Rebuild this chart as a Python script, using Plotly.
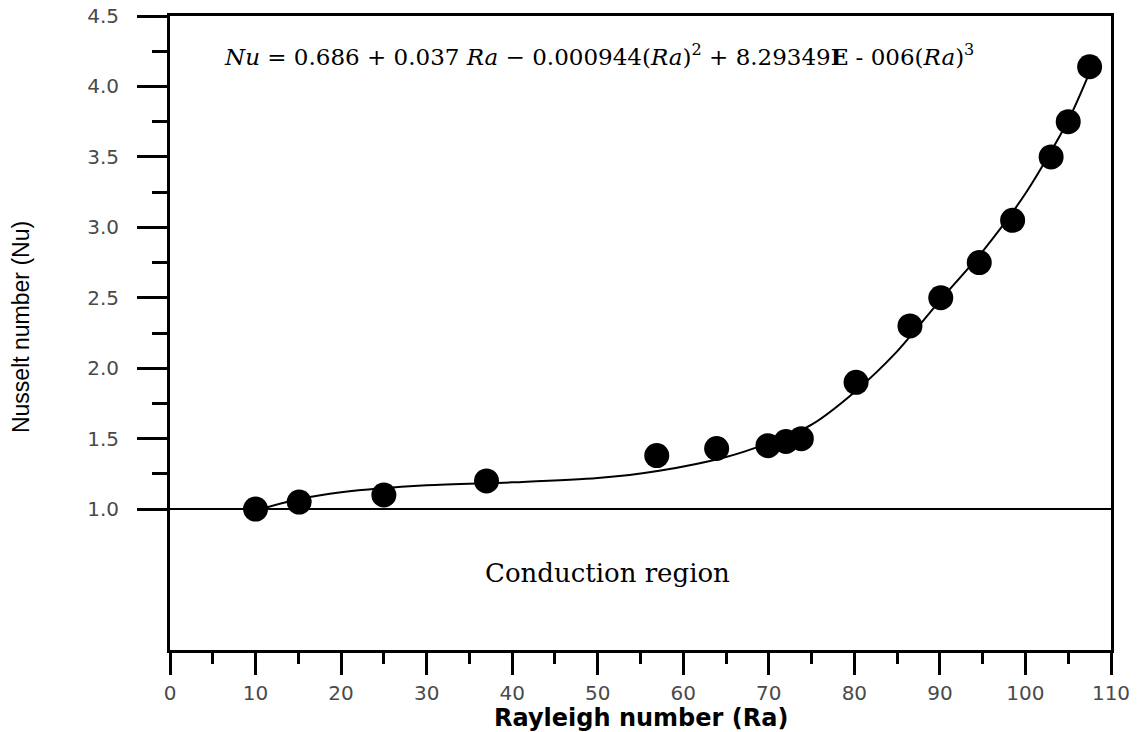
import plotly.graph_objects as go

ra_points = [10.0, 15.1, 25.0, 37.0, 56.9, 63.9, 69.9, 72.0, 73.8, 80.2, 86.5, 90.1, 94.6, 98.5, 103.0, 105.0, 107.5]
nu_points = [1.00, 1.05, 1.10, 1.20, 1.38, 1.43, 1.45, 1.48, 1.50, 1.90, 2.30, 2.50, 2.75, 3.05, 3.50, 3.75, 4.14]

# Fitted curve
ra_curve = [10, 15, 20, 30, 40, 50, 57, 65, 70, 75, 80, 85, 90, 95, 100, 105, 107.5]
nu_curve = [0.99, 1.07, 1.12, 1.17, 1.19, 1.22, 1.27, 1.37, 1.47, 1.60, 1.83, 2.12, 2.48, 2.83, 3.24, 3.76, 4.10]

conduction_level = [1.0, 1.0]
conduction_x = [0, 110]

y_ticks = [1.0, 1.5, 2.0, 2.5, 3.0, 3.5, 4.0, 4.5]
y_minor = [1.25, 1.75, 2.25, 2.75, 3.25, 3.75, 4.25]
x_ticks = [0, 10, 20, 30, 40, 50, 60, 70, 80, 90, 100, 110]

fig = go.Figure()

fig.add_trace(go.Scatter(x=conduction_x, y=conduction_level, mode="lines",
                         line=dict(color="black", width=2), showlegend=False, hoverinfo="skip"))
fig.add_trace(go.Scatter(x=ra_curve, y=nu_curve, mode="lines",
                         line=dict(color="black", width=2, shape="spline", smoothing=0.8),
                         showlegend=False))
fig.add_trace(go.Scatter(x=ra_points, y=nu_points, mode="markers",
                         marker=dict(color="black", size=25), showlegend=False))

tickfont = dict(family="DejaVu Sans, Arial, sans-serif", size=20, color="#4a4a4a")

fig.update_xaxes(
    range=[0, 110], tickmode="array", tickvals=x_ticks,
    ticks="outside", ticklen=22, tickwidth=3, tickcolor="black",
    minor=dict(dtick=5, tick0=0, ticks="outside", ticklen=11, tickwidth=3, tickcolor="black"),
    showline=True, linecolor="black", linewidth=3, mirror=True,
    showgrid=False, zeroline=False, tickfont=tickfont,
    ticklabelstandoff=1, automargin=False, ticklabeloverflow="allow",
)
fig.update_yaxes(
    range=[0, 4.5], tickmode="array", tickvals=y_ticks, ticktext=[f"{v:.1f}" for v in y_ticks],
    ticks="outside", ticklen=30, tickwidth=3, tickcolor="black",
    minor=dict(tickvals=y_minor, ticks="outside", ticklen=15, tickwidth=3, tickcolor="black"),
    showline=True, linecolor="black", linewidth=3, mirror=True,
    showgrid=False, zeroline=False, tickfont=tickfont,
    ticklabelstandoff=14, automargin=False, ticklabeloverflow="allow",
)

# axis titles
fig.add_annotation(
    x=0.5, y=-0.1065, xref="paper", yref="paper", xanchor="center", yanchor="middle", showarrow=False,
    text="<b>Rayleigh number (Ra)</b>",
    font=dict(family="DejaVu Sans, Arial, sans-serif", size=24, color="black"),
)
fig.add_annotation(
    x=-0.159, y=0.51, xref="paper", yref="paper", xanchor="center", yanchor="middle", showarrow=False,
    text="Nusselt number (Nu)", textangle=-90,
    font=dict(family="Liberation Sans, Arial, sans-serif", size=23, color="black"),
)

fig.add_annotation(
    x=0.055, y=4.22, xref="paper", yref="y", xanchor="left", yanchor="middle", showarrow=False,
    text="<i>Nu</i> = 0.686 + 0.037 <i>Ra</i> − 0.000944(<i>Ra</i>)<sup>2</sup> + 8.29349<b>E</b> - 006(<i>Ra</i>)<sup>3</sup>",
    font=dict(family="DejaVu Serif, Liberation Serif, serif", size=23, color="black"),
)
fig.add_annotation(
    x=51.2, y=0.55, xref="x", yref="y", showarrow=False,
    text="Conduction region",
    font=dict(family="DejaVu Serif, Liberation Serif, serif", size=26, color="black"),
)

fig.update_layout(
    width=1136, height=724,
    margin=dict(l=162, r=33, t=8, b=82),
    plot_bgcolor="white", paper_bgcolor="white",
)

fig.write_html("out.html")
